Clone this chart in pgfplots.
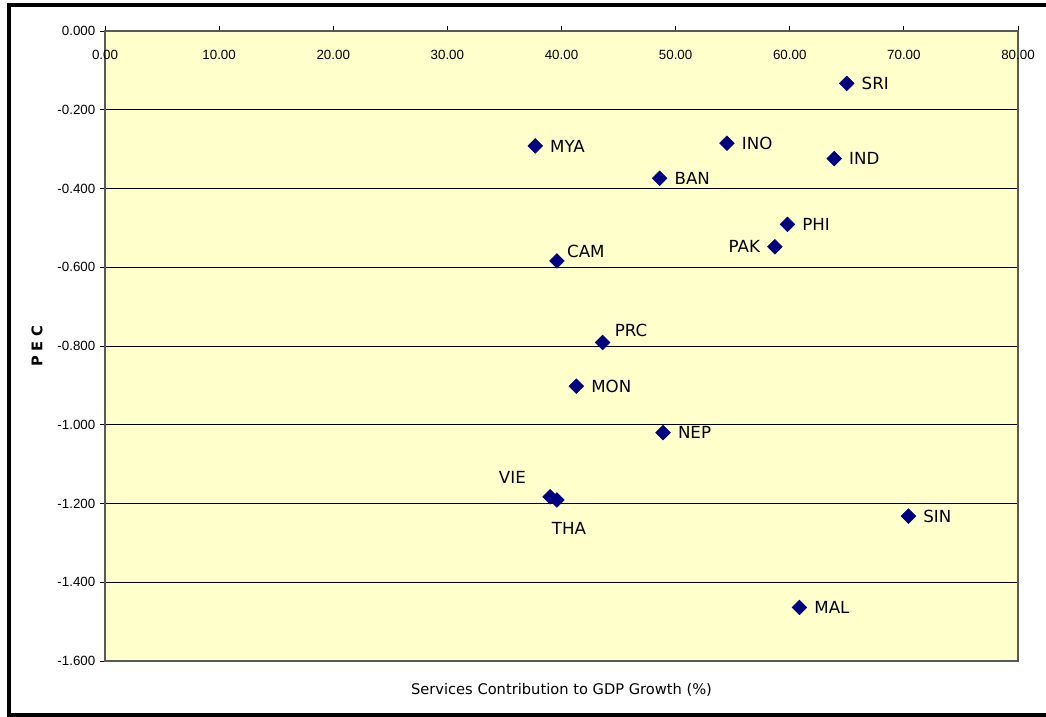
\documentclass[border=0pt]{standalone}
\usepackage{fontspec}
\setmainfont{Liberation Sans}
\newfontfamily\lab{DejaVu Sans}
\usepackage{pgfplots}
\pgfplotsset{compat=1.18}
\definecolor{plotbg}{HTML}{FFFFCC}
\definecolor{mk}{HTML}{000080}
\pgfplotsset{
  pt/.style={only marks, mark=square*, mark size=3.9pt,
    mark options={rotate=45, fill=mk, draw=mk},
    nodes near coords, point meta=explicit symbolic,
    every node near coord/.append style={inner sep=0pt, text=black, font=\lab\fontsize{12.5}{14}\selectfont}},
}
\begin{document}
\begin{tikzpicture}
\useasboundingbox (-78.75pt,-42pt) rectangle (705.75pt,495.75pt);
\begin{axis}[
  at={(0,0)}, anchor=south west,
  scale only axis, width=684.75pt, height=472.5pt,
  xmin=0, xmax=80, ymin=-1.6, ymax=0,
  xtick={0,10,20,30,40,50,60,70,80},
  ytick={-1.6,-1.4,-1.2,-1,-0.8,-0.6,-0.4,-0.2,0},
  axis background/.style={fill=plotbg},
  ymajorgrids, major grid style={black, line width=0.6pt},
  axis line style={draw=black!65, line width=0.8pt},
  tick align=outside, major tick length=3.75pt,
  tick style={black, line width=0.6pt},
  xtick pos=right, ytick pos=left, xticklabel pos=right,
  tick label style={font=\fontsize{10}{12}\selectfont},
  xticklabel style={anchor=center, yshift=-21.75pt,
    /pgf/number format/fixed, /pgf/number format/fixed zerofill,
    /pgf/number format/precision=2, /pgf/number format/assume math mode=true},
  yticklabel style={
    /pgf/number format/fixed, /pgf/number format/fixed zerofill,
    /pgf/number format/precision=3, /pgf/number format/assume math mode=true},
  xlabel={Services Contribution to GDP Growth (\%)},
  xlabel style={at={(axis description cs:0.5,-0.046)}, anchor=center,
    font=\lab\fontsize{11}{13}\selectfont},
  ylabel={P\,\,E\,\,C},
  ylabel style={at={(axis description cs:-0.0745,0.5)}, anchor=center,
    font=\lab\bfseries\fontsize{11}{13}\selectfont},
  clip=false,
]
% labels to the right
\addplot[pt, every node near coord/.append style={anchor=west, xshift=11pt}]
  table[meta=label] {
x y label
65.0 -0.133 SRI
37.7 -0.292 MYA
54.5 -0.285 INO
63.9 -0.324 IND
48.6 -0.374 BAN
59.8 -0.491 PHI
41.3 -0.902 MON
48.9 -1.020 NEP
70.4 -1.232 SIN
60.85 -1.464 MAL
};
% label to the left
\addplot[pt, every node near coord/.append style={anchor=east, xshift=-11pt}]
  table[meta=label] {
x y label
58.7 -0.548 PAK
};
% above right
\addplot[pt, every node near coord/.append style={anchor=west, xshift=7.5pt, yshift=7.5pt}]
  table[meta=label] {
x y label
39.6 -0.584 CAM
};
\addplot[pt, every node near coord/.append style={anchor=west, xshift=9pt, yshift=9pt}]
  table[meta=label] {
x y label
43.6 -0.791 PRC
};
% above left
\addplot[pt, every node near coord/.append style={anchor=east, xshift=-18pt, yshift=14.25pt}]
  table[meta=label] {
x y label
39.0 -1.183 VIE
};
% below
\addplot[pt, every node near coord/.append style={anchor=center, xshift=9pt, yshift=-21pt}]
  table[meta=label] {
x y label
39.6 -1.191 THA
};
\end{axis}
\draw[line width=2.6pt] (760pt,492pt) -- (-72pt,492pt) -- (-72pt,-40.5pt) -- (760pt,-40.5pt);
\end{tikzpicture}
\end{document}
